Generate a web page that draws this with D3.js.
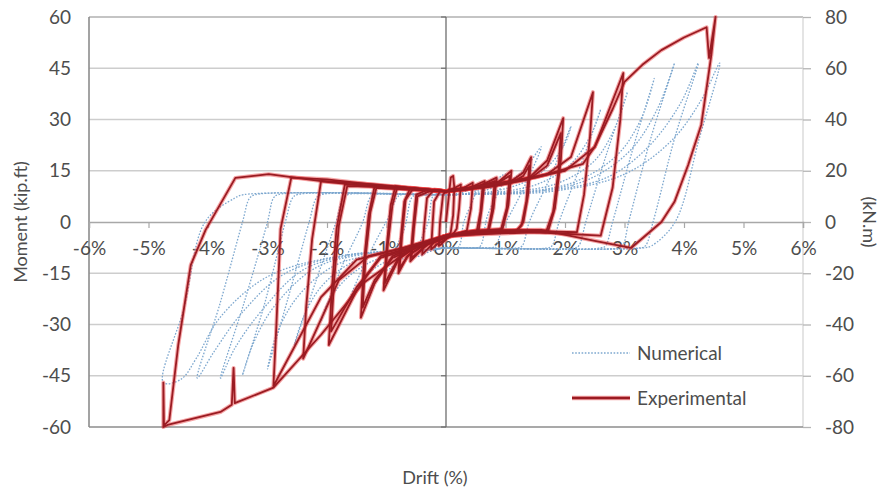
<!DOCTYPE html>
<html>
<head>
<meta charset="utf-8">
<script src="https://cdn.jsdelivr.net/npm/d3@7"></script>
<style>
  html, body { margin: 0; padding: 0; background: #fff; }
  svg { display: block; font-family: Lato, "Open Sans", sans-serif; }
</style>
</head>
<body>
<svg id="chart" width="880" height="491"></svg>
<script>
// Axis ticks: drift (%), moment (kip.ft) on the left, moment (kN.m) on the right
const driftTicks = [-6, -5, -4, -3, -2, -1, 0, 1, 2, 3, 4, 5, 6];
const momentTicks = [-60, -45, -30, -15, 0, 15, 30, 45, 60];
const momentSITicks = [-80, -60, -40, -20, 0, 20, 40, 60, 80];

// Experimental hysteresis, one array per cycle: [drift %, moment kip.ft]
const exp01 = [[0,0],[0.05,8],[0.08,13],[0.12,13.5],[0.14,10],[0.12,2],[0.08,-3],[0,-5],[-0.08,-6.5],[-0.12,-7],[-0.1,0],[-0.05,8],[0,9]];
const exp02 = [[0,9],[0.15,10],[0.25,11],[0.22,4],[0.18,-2],[0.1,-4],[0,-5],[-0.15,-6.5],[-0.25,-8],[-0.23,-2],[-0.2,6],[-0.1,9],[0,9]];
const exp03 = [[0,9],[0.3,10],[0.45,11.5],[0.42,4],[0.35,-2.5],[0.2,-3.5],[0,-4.5],[-0.2,-6],[-0.4,-9.5],[-0.37,-2],[-0.32,7],[-0.2,9.5],[0,9]];
const exp04 = [[0,9],[0.4,10],[0.65,12],[0.6,4],[0.55,-2.5],[0.3,-3],[0,-4],[-0.3,-6],[-0.6,-11.5],[-0.56,-3],[-0.5,8],[-0.3,9.5],[0,9]];
const exp04b = [[0,9],[0.35,9.5],[0.62,11],[0.58,3],[0.52,-2.5],[0.25,-3.2],[0,-4.5],[-0.3,-6.5],[-0.58,-10.5],[-0.54,-2],[-0.48,7.5],[-0.25,9.2],[0,9]];
const exp05 = [[0,9],[0.5,10],[0.85,13],[0.8,4],[0.72,-2.5],[0.4,-3],[0,-4],[-0.4,-7],[-0.65,-10],[-0.8,-15],[-0.76,-5],[-0.7,6],[-0.6,10],[-0.3,9.5],[0,9]];
const exp05b = [[0,9],[0.45,9.8],[0.82,12],[0.77,3],[0.7,-2.8],[0.35,-3.2],[0,-4.2],[-0.4,-7.2],[-0.62,-9.5],[-0.78,-13.5],[-0.74,-4],[-0.68,6.5],[-0.55,9.8],[0,9]];
const exp06 = [[0,9],[0.6,10.5],[0.9,12],[1.1,15],[1.05,5],[0.95,-2],[0.6,-2.5],[0,-4],[-0.5,-7],[-0.8,-11],[-1.05,-20],[-1.0,-8],[-0.93,5],[-0.85,10.5],[-0.4,9.5],[0,9]];
const exp06b = [[0,9],[0.55,10.2],[0.88,11.5],[1.07,13.5],[1.02,4],[0.92,-2.5],[0.5,-2.8],[0,-4.2],[-0.5,-7.5],[-0.8,-10.5],[-1.03,-18],[-0.98,-7],[-0.9,5],[-0.82,10],[-0.4,9.3],[0,9]];
const exp07 = [[0,9],[0.7,10.5],[1.1,12],[1.3,14.5],[1.43,19],[1.38,8],[1.3,0],[1.2,-2.5],[0.6,-2.5],[0,-4],[-0.5,-7],[-0.9,-10],[-1.2,-18],[-1.43,-28],[-1.38,-12],[-1.3,2],[-1.2,10.5],[-0.6,9.8],[0,9]];
const exp07b = [[0,9],[0.7,10.2],[1.1,11.5],[1.3,13.5],[1.4,16.5],[1.35,6],[1.27,-1],[1.15,-3],[0.6,-2.8],[0,-4.3],[-0.5,-7.5],[-0.9,-10.5],[-1.2,-17],[-1.4,-25],[-1.35,-10],[-1.27,3],[-1.17,10],[-0.6,9.5],[0,9]];
const exp08 = [[0,9],[0.8,11],[1.4,13],[1.7,18],[1.97,30.4],[1.93,18],[1.83,4],[1.72,-2.5],[1.0,-2.5],[0,-4],[-0.6,-7.5],[-1.1,-10],[-1.5,-20],[-1.97,-36],[-1.92,-20],[-1.84,-2],[-1.7,11],[-1.0,10.5],[0,9]];
const exp08b = [[0,9],[0.8,10.5],[1.4,12.5],[1.7,16.5],[1.93,26],[1.89,15],[1.8,3],[1.68,-3],[1.0,-2.8],[0,-4.3],[-0.6,-7.8],[-1.1,-10.5],[-1.5,-19],[-1.93,-32],[-1.88,-17],[-1.8,-1],[-1.66,10.5],[-1.0,10.2],[0,9]];
const exp09 = [[0,9],[1.0,11.5],[1.7,14],[2.1,19],[2.47,38],[2.42,25],[2.32,8],[2.2,-3],[1.2,-2.5],[0,-4],[-0.7,-7.5],[-1.3,-10],[-1.8,-17],[-2.4,-40],[-2.35,-25],[-2.25,-5],[-2.1,12],[-1.2,11],[0,9]];
const exp10 = [[0,9],[1.2,12],[2.0,15],[2.5,22],[2.98,43.6],[2.93,30],[2.8,10],[2.6,-4],[1.5,-3],[0,-4],[-0.8,-8],[-1.5,-11],[-2.1,-22],[-2.9,-48],[-2.85,-30],[-2.78,-2],[-2.6,13],[-2.0,12.5],[-1.0,10.5],[0,9]];
const exp11 = [[0,9],[1.5,13],[2.3,17],[2.5,22],[2.8,33],[3.0,41],[3.3,46],[3.62,50.3],[4.0,54],[4.38,57],[4.42,48],[4.53,60],[4.46,48.9],[4.29,28.4],[4.07,16.7],[3.84,5.9],[3.62,0],[3.11,-7.6],[2.5,-5.5],[1.6,-2.3],[0.5,-2.5],[0,-4],[-0.6,-8],[-1.4,-18],[-2.1,-33],[-2.9,-48.5],[-3.55,-53],[-3.57,-42.7],[-3.6,-53.5],[-3.79,-55.6],[-4.68,-59.4],[-4.75,-60],[-4.75,-47],[-4.74,-59.5],[-4.65,-58],[-4.5,-36],[-4.29,-12.6],[-4.04,-2.3],[-3.54,12.9],[-2.98,14],[-1.97,11.7],[-1.0,10],[0,9]];

// Numerical model, one array per cycle: [drift %, moment kip.ft]
const num01 = [[0,8],[0.25,8.5],[0.5,10],[0.3,0],[0.2,-7.6],[0,-7.6],[-0.25,-8.5],[-0.5,-10],[-0.3,0],[-0.2,8],[0,8]];
const num02 = [[0,8],[0.3,8.2],[0.7,10.5],[1.0,14],[0.7,2],[0.58,-7],[0.5,-7.6],[0,-7.6],[-0.3,-8.2],[-0.7,-10.5],[-1.0,-14],[-0.7,-2],[-0.58,7],[-0.5,8],[0,8]];
const num03 = [[0,8],[0.3,8.1],[0.6,9],[1.0,11.5],[1.3,15],[1.6,22],[1.25,8],[0.95,-2],[0.83,-7],[0.75,-7.6],[0.3,-7.6],[0,-7.6],[-0.3,-8.1],[-0.6,-9],[-1.0,-11.5],[-1.3,-15],[-1.6,-22],[-1.25,-8],[-0.95,2],[-0.83,7],[-0.75,8],[-0.3,8],[0,8]];
const num04 = [[0,8],[0.3,8.1],[0.8,9],[1.3,11.5],[1.7,16],[2.0,23],[2.1,28],[1.75,13],[1.4,0],[1.28,-7],[1.2,-7.6],[0.3,-7.6],[0,-7.6],[-0.3,-8.1],[-0.8,-9],[-1.3,-12],[-1.7,-17],[-2.0,-24],[-2.1,-29],[-1.75,-13],[-1.4,0],[-1.28,7],[-1.2,8],[-0.3,8],[0,8]];
const num05 = [[0,8],[0.3,8.1],[1.0,9],[1.6,11.5],[2.1,17],[2.45,26],[2.6,33],[2.25,16],[1.9,0],[1.78,-7],[1.7,-7.6],[0.3,-7.6],[0,-7.6],[-0.3,-8.1],[-1.0,-9],[-1.6,-12],[-2.1,-19],[-2.4,-28],[-2.55,-36],[-2.2,-18],[-1.85,0],[-1.73,7],[-1.65,8],[-0.3,8],[0,8]];
const num06 = [[0,8],[0.3,8.1],[1.2,9],[1.9,11.5],[2.5,18],[2.85,28],[3.05,38],[2.7,20],[2.35,0],[2.23,-7],[2.15,-7.6],[0.3,-7.6],[0,-7.6],[-0.3,-8.1],[-1.2,-9.5],[-1.9,-13],[-2.5,-22],[-2.85,-33],[-3.0,-43],[-2.65,-22],[-2.3,0],[-2.18,7],[-2.1,8],[-0.3,8],[0,8]];
const num07 = [[0,8],[0.3,8.1],[1.4,9],[2.2,12],[2.9,20],[3.3,31],[3.5,42],[3.15,22],[2.8,0],[2.68,-7],[2.6,-7.6],[0.3,-7.6],[0,-7.6],[-0.3,-8.1],[-1.4,-9.5],[-2.2,-13.5],[-2.9,-25],[-3.25,-36],[-3.42,-44.8],[-3.05,-24],[-2.7,0],[-2.58,7],[-2.5,8],[-0.3,8],[0,8]];
const num08 = [[0,8],[0.3,8.1],[1.5,9],[2.4,12.5],[3.1,21],[3.55,33],[3.84,46.5],[3.45,25],[3.07,0],[2.97,-7],[2.9,-7.6],[0.3,-7.6],[0,-7.6],[-0.3,-8.1],[-1.5,-9.5],[-2.4,-14],[-3.1,-26],[-3.55,-37],[-3.79,-45.7],[-3.4,-24],[-3.0,0],[-2.9,7],[-2.82,8],[-0.3,8],[0,8]];
const num09 = [[0,8],[0.3,8.1],[1.6,9],[2.7,13],[3.4,22],[3.95,35],[4.24,46.5],[3.85,25],[3.48,0],[3.35,-7],[3.25,-7.6],[0.3,-7.6],[0,-7.6],[-0.3,-8.1],[-1.6,-9.5],[-2.7,-15],[-3.4,-26],[-3.9,-38],[-4.18,-45.7],[-3.8,-24],[-3.42,0],[-3.3,7],[-3.2,8],[-0.3,8],[0,8]];
const num10 = [[0,8],[0.3,8.1],[1.8,9],[3.0,14],[3.8,24],[4.3,36],[4.6,46.5],[4.25,24],[3.85,0],[3.45,-7],[3.3,-7.6],[0.3,-7.6],[0,-7.6],[-0.3,-8.1],[-1.8,-10],[-3.0,-16],[-3.8,-28],[-4.2,-40],[-4.45,-46],[-4.75,-47],[-4.4,-25],[-4.05,0],[-3.55,7],[-3.4,8],[-0.3,8],[0,8]];

const expCycles = [exp01, exp02, exp03, exp04, exp04b, exp05, exp05b, exp06, exp06b, exp07, exp07b, exp08, exp08b, exp09, exp10, exp11];
const numCycles = [num01, num02, num03, num04, num05, num06, num07, num08, num09, num10];

const seriesNames = ["Numerical", "Experimental"];

// Plot frame
const plot = { left: 89, right: 803, top: 17, bottom: 427 };

const svg = d3.select("#chart");
const x = d3.scaleLinear().domain([-6, 6]).range([plot.left, plot.right]);
const y = d3.scaleLinear().domain([-60, 60]).range([plot.bottom, plot.top]);
const y2 = d3.scaleLinear().domain([-80, 80]).range([plot.bottom, plot.top]);

const textColor = "#4d4d4d";
const fontSize = "19px";
const plainNumber = d => String(d);

// Horizontal gridlines
svg.append("g")
  .selectAll("line")
  .data(momentTicks.filter(v => v !== 0 && v !== -60))
  .join("line")
  .attr("x1", plot.left).attr("x2", plot.right)
  .attr("y1", d => y(d)).attr("y2", d => y(d))
  .attr("stroke", d => d === 60 ? "#b0b0b0" : "#cdcdcd")
  .attr("stroke-width", 1.4);

// Right edge of the plot area
svg.append("line")
  .attr("x1", plot.right).attr("x2", plot.right)
  .attr("y1", plot.top).attr("y2", plot.bottom)
  .attr("stroke", "#d2d2d2").attr("stroke-width", 1.2);

// Left moment axis (labels only, frame line on the left)
const yAxis = d3.axisLeft(y).tickValues(momentTicks).tickSize(0).tickPadding(0).tickFormat(plainNumber);
const gy = svg.append("g").attr("transform", `translate(71,0)`).call(yAxis);
gy.select(".domain").remove();
gy.selectAll("text").attr("fill", textColor).style("font-size", fontSize).style("font-family", "Lato, sans-serif");

svg.append("line")
  .attr("x1", plot.left).attr("x2", plot.left)
  .attr("y1", plot.top).attr("y2", plot.bottom)
  .attr("stroke", "#8c8c8c").attr("stroke-width", 1.6);
svg.append("line")
  .attr("x1", plot.left).attr("x2", plot.right)
  .attr("y1", plot.bottom).attr("y2", plot.bottom)
  .attr("stroke", "#8c8c8c").attr("stroke-width", 1.6);

// Right moment axis in kN.m
const y2Axis = d3.axisRight(y2).tickValues(momentSITicks).tickSize(8).tickPadding(14).tickFormat(plainNumber);
const gy2 = svg.append("g").attr("transform", `translate(${plot.right},0)`).call(y2Axis);
gy2.select(".domain").remove();
gy2.selectAll("line").attr("stroke", "#b5b5b5").attr("stroke-width", 1.3);
gy2.selectAll("text").attr("fill", textColor).style("font-size", fontSize).style("font-family", "Lato, sans-serif");

// Drift axis through zero moment
const xAxis = d3.axisBottom(x).tickValues(driftTicks).tickSize(6).tickPadding(14).tickFormat(d => d + "%");
const gx = svg.append("g").attr("transform", `translate(0,${y(0)})`).call(xAxis);
gx.select(".domain").attr("stroke", "#a8a8a8").attr("stroke-width", 1.4);
gx.selectAll("line").attr("stroke", "#a8a8a8").attr("stroke-width", 1.2);
gx.selectAll("text").attr("fill", textColor).style("font-size", fontSize).style("font-family", "Lato, sans-serif");

// Vertical axis line through zero drift, with small gridline ticks
svg.append("line")
  .attr("x1", x(0)).attr("x2", x(0))
  .attr("y1", plot.top).attr("y2", plot.bottom)
  .attr("stroke", "#6e6e6e").attr("stroke-width", 1.3);
svg.append("g")
  .selectAll("line")
  .data(momentTicks)
  .join("line")
  .attr("x1", x(0) - 5).attr("x2", x(0))
  .attr("y1", d => y(d)).attr("y2", d => y(d))
  .attr("stroke", "#6e6e6e").attr("stroke-width", 1.2);

// Data
svg.append("defs").append("clipPath").attr("id", "plotClip")
  .append("rect")
  .attr("x", plot.left).attr("y", plot.top - 3)
  .attr("width", plot.right - plot.left).attr("height", plot.bottom - plot.top + 6);

const line = d3.line().x(d => x(d[0])).y(d => y(d[1]));
const smoothLine = d3.line().x(d => x(d[0])).y(d => y(d[1])).curve(d3.curveCatmullRom.alpha(0.5));
const dataG = svg.append("g").attr("clip-path", "url(#plotClip)");

dataG.append("g")
  .selectAll("path")
  .data(numCycles)
  .join("path")
  .attr("d", smoothLine)
  .attr("fill", "none")
  .attr("stroke", "#7ea8cf")
  .attr("stroke-width", 1.3)
  .attr("stroke-dasharray", "1.6,1.6");

dataG.append("g")
  .selectAll("path")
  .data(expCycles)
  .join("path")
  .attr("d", line)
  .attr("fill", "none")
  .attr("stroke", "#e8383a")
  .attr("stroke-opacity", 0.45)
  .attr("stroke-width", 4)
  .attr("stroke-linejoin", "round");

dataG.append("g")
  .selectAll("path")
  .data(expCycles)
  .join("path")
  .attr("d", line)
  .attr("fill", "none")
  .attr("stroke", "#9a1b22")
  .attr("stroke-width", 1.8)
  .attr("stroke-linejoin", "round");

// Axis titles
svg.append("text")
  .attr("transform", `translate(27,${y(0)}) rotate(-90)`)
  .attr("text-anchor", "middle")
  .attr("fill", textColor)
  .style("font-size", "18px")
  .text("Moment (kip.ft)");

svg.append("text")
  .attr("transform", `translate(863,${y(0)}) rotate(90)`)
  .attr("text-anchor", "middle")
  .attr("fill", textColor)
  .style("font-size", "18px")
  .text("(kN.m)");

svg.append("text")
  .attr("x", 435).attr("y", 484)
  .attr("text-anchor", "middle")
  .attr("fill", textColor)
  .style("font-size", "18px")
  .text("Drift (%)");

// Legend
const legend = svg.append("g");
const legendRows = [
  { name: seriesNames[0], yPos: 353, stroke: "#7ea8cf", width: 1.3, dash: "1.6,1.6" },
  { name: seriesNames[1], yPos: 398, stroke: "#9a1b22", width: 2.4, dash: null }
];
legendRows.forEach(r => {
  if (!r.dash) {
    legend.append("line")
      .attr("x1", 572).attr("x2", 630).attr("y1", r.yPos).attr("y2", r.yPos)
      .attr("stroke", "#e8383a").attr("stroke-opacity", 0.45).attr("stroke-width", 4.5);
  }
  legend.append("line")
    .attr("x1", 572).attr("x2", 630).attr("y1", r.yPos).attr("y2", r.yPos)
    .attr("stroke", r.stroke).attr("stroke-width", r.width)
    .attr("stroke-dasharray", r.dash);
  legend.append("text")
    .attr("x", 637).attr("y", r.yPos)
    .attr("dy", "0.35em")
    .attr("fill", textColor)
    .style("font-size", fontSize)
    .text(r.name);
});
</script>
</body>
</html>
